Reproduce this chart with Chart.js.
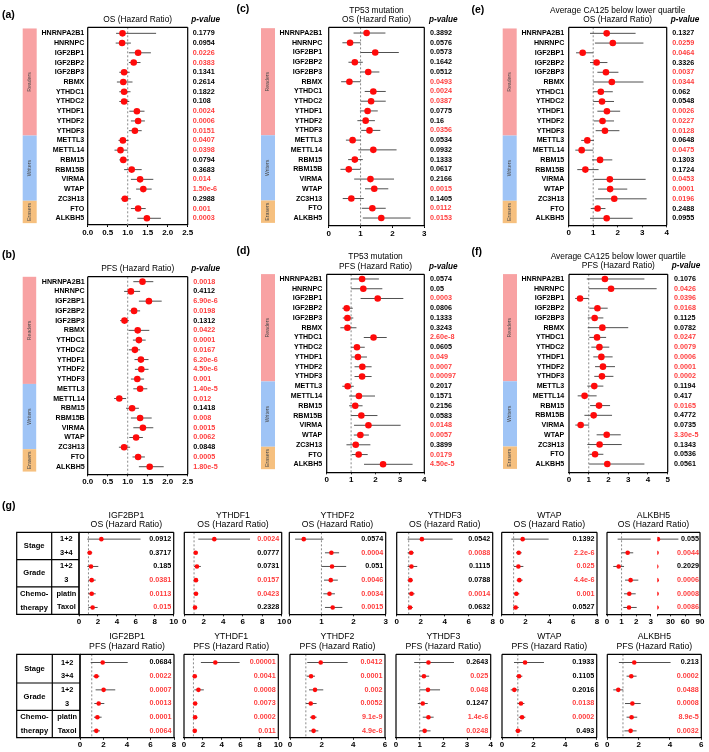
<!DOCTYPE html>
<html><head><meta charset="utf-8">
<script src="https://cdn.jsdelivr.net/npm/chart.js@4"></script>
<style>
html,body{margin:0;padding:0;background:#fff;}
#wrap{position:relative;width:709px;height:752px;overflow:hidden;background:#fff;}
#wrap canvas{position:absolute;left:0;top:0;}
</style></head>
<body><div id="wrap"></div>
<script>
// ---------------- DATA ----------------
const genes = ['HNRNPA2B1','HNRNPC','IGF2BP1','IGF2BP2','IGF2BP3','RBMX','YTHDC1','YTHDC2','YTHDF1','YTHDF2','YTHDF3','METTL3','METTL14','RBM15','RBM15B','VIRMA','WTAP','ZC3H13','FTO','ALKBH5'];
const groupNames = ['Readers','Writers','Erasers'];

// (a) OS
const osHR = [0.87,0.86,1.26,1.15,0.91,0.89,0.91,0.91,1.23,1.26,1.18,0.88,0.82,0.89,1.10,1.31,1.39,0.93,1.26,1.48];
const osLo = [0.71,0.70,1.03,1.03,0.79,0.73,0.79,0.79,1.04,1.08,1.03,0.77,0.67,0.79,0.91,1.08,1.21,0.83,1.08,1.24];
const osHi = [1.71,1.08,1.58,1.32,1.05,1.12,1.07,1.04,1.42,1.43,1.35,1.02,1.00,1.03,1.35,1.64,1.60,1.08,1.45,1.83];
const osP  = ['0.1779','0.0954','0.0226','0.0383','0.1341','0.2614','0.1822','0.108','0.0024','0.0006','0.0151','0.0407','0.0398','0.0794','0.3683','0.014','1.50e-6','0.2988','0.001','0.0003'];
// (b) PFS
const pfsHR = [1.37,1.08,1.53,1.16,0.92,1.25,1.28,1.18,1.33,1.34,1.24,1.31,0.79,1.11,1.31,1.38,1.21,0.91,1.26,1.55];
const pfsLo = [1.14,0.91,1.28,1.04,0.81,1.02,1.13,1.03,1.17,1.18,1.08,1.14,0.66,0.96,1.08,1.14,1.04,0.78,1.12,1.28];
const pfsHi = [1.64,1.31,1.85,1.31,1.03,1.54,1.45,1.31,1.52,1.52,1.41,1.49,0.96,1.28,1.60,1.64,1.38,1.06,1.43,1.90];
const pfsP  = ['0.0018','0.4112','6.90e-6','0.0198','0.1312','0.0422','0.0001','0.0167','6.20e-6','4.50e-6','0.001','1.40e-5','0.012','0.1418','0.008','0.0015','0.0062','0.0848','0.0005','1.80e-5'];
// (c) TP53 mutation OS
const tp53OsHR = [1.19,0.67,1.46,0.82,1.24,0.65,1.40,1.33,1.22,1.16,1.28,0.75,1.40,0.82,0.63,1.31,1.43,0.71,1.37,1.65];
const tp53OsLo = [0.78,0.43,1.00,0.62,1.00,0.39,1.13,1.00,0.98,0.90,1.02,0.54,0.93,0.61,0.37,0.80,1.14,0.44,1.04,1.07];
const tp53OsHi = [1.78,1.00,2.20,1.07,1.59,1.00,1.79,1.79,1.54,1.45,1.62,1.00,2.13,1.07,1.00,2.05,1.87,1.10,1.79,2.57];
const tp53OsP  = ['0.3892','0.0576','0.0573','0.1642','0.0512','0.0493','0.0024','0.0387','0.0775','0.16','0.0356','0.0534','0.0932','0.1333','0.0617','0.2166','0.0015','0.1405','0.0112','0.0153'];
// (d) TP53 mutation PFS
const tp53PfsHR = [1.45,1.50,2.09,0.82,0.85,0.85,1.92,1.24,1.28,1.46,1.45,0.86,1.32,1.17,1.42,1.71,1.38,1.19,1.31,2.31];
const tp53PfsLo = [1.00,1.00,1.39,0.64,0.66,0.56,1.52,1.00,1.00,1.14,1.14,0.64,0.92,0.92,1.00,1.12,1.11,0.81,1.03,1.53];
const tp53PfsHi = [2.14,2.28,3.14,1.07,1.09,1.22,2.46,1.56,1.65,1.84,1.84,1.11,1.98,1.47,2.08,3.03,1.73,1.79,1.68,3.52];
const tp53PfsP  = ['0.0574','0.05','0.0003','0.0806','0.1333','0.3243','2.60e-8','0.0605','0.049','0.0007','0.00097','0.2017','0.1571','0.2156','0.0583','0.0148','0.0057','0.3899','0.0179','4.50e-5'];
// (e) CA125 OS
const caOsHR = [1.55,1.80,0.57,1.14,1.52,1.76,1.31,1.36,1.56,1.38,1.48,0.76,0.53,1.28,0.68,1.68,1.69,1.86,1.18,1.55];
const caOsLo = [0.87,1.07,0.30,0.87,1.17,1.00,1.00,1.00,1.17,1.03,1.10,0.51,0.27,0.95,0.35,1.03,1.20,1.08,0.90,0.87];
const caOsHi = [2.73,3.05,1.00,1.58,2.03,3.05,1.80,1.85,2.10,1.85,2.07,1.03,1.00,1.78,1.22,3.14,2.39,3.18,1.50,2.61];
const caOsP  = ['0.1327','0.0259','0.0464','0.3326','0.0037','0.0344','0.062','0.0548','0.0026','0.0227','0.0128','0.0648','0.0475','0.1303','0.1724','0.0453','0.0001','0.0196','0.2488','0.0955'];
// (f) CA125 PFS
const caPfsHR = [1.82,2.13,0.56,1.44,1.30,1.69,1.42,1.54,1.64,1.72,1.67,1.28,0.79,1.52,1.25,0.59,1.91,1.55,1.32,1.94];
const caPfsLo = [0.90,1.00,0.31,1.03,0.95,0.95,1.03,1.13,1.23,1.32,1.28,0.93,0.44,1.07,0.78,0.32,1.40,0.93,1.03,1.02];
const caPfsHi = [3.82,4.44,1.00,1.96,1.74,3.00,1.88,2.04,2.21,2.33,2.25,1.74,1.40,2.08,2.18,1.02,2.62,2.67,1.74,3.82];
const caPfsP  = ['0.1076','0.0426','0.0396','0.0168','0.1125','0.0782','0.0247','0.0079','0.0006','0.0001','0.0002','0.1194','0.417','0.0165','0.4772','0.0735','3.30e-5','0.1343','0.0536','0.0561'];

// (g) subgroup analyses
const gCats = [['Stage'],['Grade'],['Chemo-','therapy']];
const gRows = ['1+2','3+4','1+2','3','platin','Taxol'];

const igf2bp1OsHR = [2.36,1.13,1.27,1.34,1.34,1.44];
const igf2bp1OsLo = [0.88,0.88,0.88,0.99,0.99,0.99];
const igf2bp1OsHi = [6.50,1.40,2.04,1.76,1.76,1.97];
const igf2bp1OsP  = ['0.0912','0.3717','0.185','0.0381','0.0113','0.015'];
const ythdf1OsHR = [3.08,1.17,1.30,1.20,1.20,1.10];
const ythdf1OsLo = [1.44,1.00,1.00,0.95,0.97,0.90];
const ythdf1OsHi = [6.75,1.35,1.70,1.40,1.42,1.30];
const ythdf1OsP  = ['0.0024','0.0777','0.0731','0.0157','0.0423','0.2328'];
const ythdf2OsHR = [0.45,1.31,1.33,1.29,1.25,1.35];
const ythdf2OsLo = [0.18,1.11,1.00,1.08,1.06,1.11];
const ythdf2OsHi = [1.06,1.55,1.77,1.51,1.42,1.65];
const ythdf2OsP  = ['0.0574','0.0004','0.051','0.0046','0.0034','0.0015'];
const ythdf3OsHR = [2.10,1.20,1.23,1.14,1.23,1.11];
const ythdf3OsLo = [0.91,0.91,0.91,0.90,0.97,0.90];
const ythdf3OsHi = [4.66,1.43,1.71,1.34,1.49,1.34];
const ythdf3OsP  = ['0.0542','0.0088','0.1115','0.0788','0.0014','0.0632'];
const wtapOsHR = [1.76,1.43,1.40,1.48,1.23,1.17];
const wtapOsLo = [0.81,1.20,1.03,1.26,1.03,0.98];
const wtapOsHi = [3.94,1.68,1.82,1.76,1.48,1.43];
const wtapOsP  = ['0.1392','2.2e-6','0.025','4.4e-6','0.001','0.0527'];
const alkbh5OsHR = [4.2,1.42,0.80,1.62,1.53,1.51];
const alkbh5OsLo = [0.73,1.00,0.43,1.24,1.17,1.12];
const alkbh5OsHi = [46,1.80,1.17,2.15,1.97,2.04];
const alkbh5OsP  = ['0.055','0.0044','0.2029','0.0006','0.0008','0.0086'];

const igf2bp1PfsHR = [1.93,1.39,2.01,1.59,1.48,1.39];
const igf2bp1PfsLo = [0.91,1.13,1.33,1.22,1.19,1.08];
const igf2bp1PfsHi = [4.06,1.65,3.00,2.07,1.84,1.70];
const igf2bp1PfsP  = ['0.0684','0.0022','0.0007','0.0013','0.0001','0.0064'];
const ythdf1PfsHR = [3.32,1.14,1.53,1.18,1.18,1.14];
const ythdf1PfsLo = [1.79,0.95,1.10,0.97,0.98,0.95];
const ythdf1PfsHi = [5.90,1.35,2.10,1.40,1.40,1.35];
const ythdf1PfsP  = ['0.00001','0.0041','0.0008','0.0073','0.0002','0.011'];
const ythdf2PfsHR = [1.94,1.33,1.58,1.31,1.47,1.49];
const ythdf2PfsLo = [1.09,1.05,1.20,1.01,1.26,1.20];
const ythdf2PfsHi = [3.64,1.58,2.10,1.68,1.68,1.79];
const ythdf2PfsP  = ['0.0412','0.0001','0.002','0.0052','9.1e-9','4.9e-6'];
const ythdf3PfsHR = [1.37,1.18,1.35,1.13,1.37,1.21];
const ythdf3PfsLo = [0.77,0.99,0.99,0.92,1.13,1.01];
const ythdf3PfsHi = [2.45,1.40,1.86,1.34,1.59,1.46];
const ythdf3PfsP  = ['0.2643','0.025','0.048','0.1247','1.4e-6','0.0248'];
const wtapPfsHR = [1.46,1.08,0.78,1.20,1.27,1.01];
const wtapPfsLo = [0.76,0.89,0.55,0.99,1.06,0.85];
const wtapPfsHi = [2.66,1.29,1.08,1.42,1.48,1.25];
const wtapPfsP  = ['0.1933','0.1105','0.2016','0.0138','0.0002','0.493'];
const alkbh5PfsHR = [1.72,1.53,0.70,1.60,1.55,1.49];
const alkbh5PfsLo = [0.74,1.23,0.38,1.13,1.23,1.09];
const alkbh5PfsHi = [4.04,1.87,1.02,2.13,1.91,1.87];
const alkbh5PfsP  = ['0.213','0.0002','0.0488','0.0008','8.9e-5','0.0032'];

// ---------------- DRAWING ----------------
const W = 709, H = 752;
const FONT = '"Liberation Sans", Arial, Helvetica, sans-serif';
const RED_PT = '#ff0a0a', RED_TX = '#ff3d3d', CI_COL = '#505050', REF_COL = '#8a8a8a';
const GROUP_COLORS = ['#f8a2a3', '#9fc4f6', '#f6c07f'];
const GROUP_EDGES = [-0.5, 10.5, 17.2, 19.5];
const wrap = document.getElementById('wrap');

function addCanvas() {
  const c = document.createElement('canvas');
  c.width = W; c.height = H;
  c.style.width = W + 'px'; c.style.height = H + 'px';
  wrap.appendChild(c);
  return c;
}

function deco(c) {
  return {
    id: 'deco',
    afterDraw(chart) {
      const ctx = chart.ctx, a = chart.chartArea, ys = chart.scales.y;
      ctx.save();
      ctx.strokeStyle = '#000'; ctx.lineWidth = 1.2;
      ctx.beginPath();
      const fr = c.frame || {top: true, left: true, right: true};
      if (fr.top) { ctx.moveTo(a.left, a.top); ctx.lineTo(a.right + (fr.topExt || 0), a.top); }
      if (fr.left) { ctx.moveTo(a.left, a.top); ctx.lineTo(a.left, a.bottom); }
      if (fr.right) { ctx.moveTo(a.right, a.top); ctx.lineTo(a.right, a.bottom); }
      ctx.stroke();
      ctx.textBaseline = 'middle';
      if (c.labels) {
        ctx.fillStyle = '#000'; ctx.textAlign = 'right';
        ctx.font = 'bold 7.1px ' + FONT;
        c.labels.forEach((t, i) => ctx.fillText(t, a.left - c.gGap, ys.getPixelForValue(i)));
      }
      if (c.p) {
        ctx.font = 'bold ' + c.pSize + 'px ' + FONT;
        ctx.textAlign = c.pMode === 'left' ? 'left' : 'right';
        const px = c.pMode === 'left' ? a.right + c.pGap : a.right - c.pGap;
        c.p.forEach((t, i) => {
          ctx.fillStyle = parseFloat(t) < 0.05 ? RED_TX : '#000';
          ctx.fillText(t, px, ys.getPixelForValue(i));
        });
      }
      if (c.bar) {
        for (let g = 0; g < groupNames.length; g++) {
          const y0 = ys.getPixelForValue(GROUP_EDGES[g]), y1 = ys.getPixelForValue(GROUP_EDGES[g + 1]);
          ctx.fillStyle = GROUP_COLORS[g];
          ctx.fillRect(c.bar[0], y0, c.bar[1], y1 - y0);
          ctx.save();
          ctx.translate(c.bar[0] + c.bar[1] / 2, (y0 + y1) / 2);
          ctx.rotate(-Math.PI / 2);
          ctx.fillStyle = '#4a4a4a'; ctx.textAlign = 'center';
          ctx.font = '5.2px ' + FONT;
          ctx.fillText(groupNames[g], 0, 0);
          ctx.restore();
        }
      }
      if (c.titles) {
        ctx.fillStyle = '#000'; ctx.textAlign = 'center';
        const tx = c.titleX !== undefined ? c.titleX : (a.left + a.right) / 2;
        c.titles.forEach(t => { ctx.font = t[2] + ' ' + FONT; ctx.fillText(t[0], tx, t[1]); });
      }
      if (c.pHead) {
        ctx.fillStyle = '#000'; ctx.textAlign = 'center';
        ctx.font = 'italic bold 8.2px ' + FONT;
        ctx.fillText('p-value', c.pHead[0], c.pHead[1]);
      }
      if (c.letter) {
        ctx.fillStyle = '#000'; ctx.textAlign = 'left';
        ctx.font = 'bold 10.5px ' + FONT;
        ctx.fillText(c.letter[0], c.letter[1], c.letter[2]);
      }
      if (c.table) {
        const L = c.table[0], C = c.table[1], R = a.left;
        ctx.strokeStyle = '#000'; ctx.lineWidth = 1.2;
        ctx.beginPath();
        ctx.rect(L, a.top, R - L, a.bottom - a.top);
        ctx.moveTo(C, a.top); ctx.lineTo(C, a.bottom);
        [1.5, 3.5].forEach(v => { const y = ys.getPixelForValue(v); ctx.moveTo(L, y); ctx.lineTo(R, y); });
        ctx.stroke();
        ctx.fillStyle = '#000'; ctx.textAlign = 'center';
        ctx.font = 'bold 7.6px ' + FONT;
        gCats.forEach((lines, k) => {
          const r0 = k * 2;
          if (lines.length === 1) ctx.fillText(lines[0], (L + C) / 2, ys.getPixelForValue(r0 + 0.5));
          else lines.forEach((t, j) => ctx.fillText(t, (L + C) / 2, ys.getPixelForValue(r0 + j)));
        });
        ctx.font = 'bold 7.4px ' + FONT;
        gRows.forEach((t, i) => ctx.fillText(t, (C + R) / 2 + 1, ys.getPixelForValue(i)));
      }
      ctx.restore();
    }
  };
}

function forest(c) {
  const cv = addCanvas();
  const idx = c.hr.map((_, i) => i);
  const datasets = [
    {data: idx.map(i => ({x: c.hr[i], y: i})), showLine: false, pointRadius: c.ptR, pointHoverRadius: c.ptR,
     backgroundColor: RED_PT, borderWidth: 0, pointBorderWidth: 0, order: 0},
    ...idx.map(i => ({data: [{x: c.lo[i], y: i}, {x: c.hi[i], y: i}], showLine: true, borderColor: CI_COL,
      borderWidth: 1, pointRadius: 0, pointHoverRadius: 0, order: 1}))
  ];
  if (c.ref !== false) datasets.push({data: [{x: 1, y: c.yMin}, {x: 1, y: c.yMax}], showLine: true,
    borderColor: REF_COL, borderWidth: 1, borderDash: [2, 2], pointRadius: 0, pointHoverRadius: 0, order: 2});
  const axisH = 12;
  new Chart(cv, {
    type: 'scatter',
    data: {datasets},
    options: {
      responsive: false, animation: false, events: [],
      layout: {padding: {left: c.box.l, top: c.box.t, right: W - c.box.r, bottom: H - c.box.b - axisH}},
      plugins: {legend: {display: false}, tooltip: {enabled: false}, title: {display: false}},
      scales: {
        x: {
          type: 'linear', min: c.xMin, max: c.xMax,
          afterBuildTicks: s => { s.ticks = c.ticks.map(v => ({value: v})); },
          afterFit: s => { s.height = axisH; },
          grid: {display: true, drawOnChartArea: false, drawTicks: true, tickLength: 2, color: '#000', lineWidth: 1},
          border: {display: true, color: '#000', width: 1.2},
          ticks: {color: '#000', padding: 0.5, maxRotation: 0, autoSkip: false,
            font: {family: FONT, size: 8, weight: 'bold'},
            callback: v => (c.hideTick !== undefined && v === c.hideTick) ? '' : v.toFixed(c.dec)}
        },
        y: {type: 'linear', display: false, min: c.yMin, max: c.yMax, reverse: true}
      }
    },
    plugins: [deco(c)]
  });
}

// panels (a)-(f)
const TITLE_FONT = '8.4px';
const panelsAF = [
  {letter: ['(a)', 2, 15], box: {l: 87.7, t: 27.3, r: 187.7, b: 225}, xMax: 2.5, ticks: [0, 0.5, 1, 1.5, 2, 2.5], dec: 1,
   yMin: -0.62, yMax: 19.69, titles: [['OS (Hazard Ratio)', 20, TITLE_FONT]], pHead: [205.7, 20], gGap: 3.4, pGap: 5, bar: [22.7, 14],
   hr: osHR, lo: osLo, hi: osHi, p: osP},
  {letter: ['(b)', 2, 255], box: {l: 87.7, t: 276.7, r: 187.7, b: 474.3}, xMax: 2.5, ticks: [0, 0.5, 1, 1.5, 2, 2.5], dec: 1,
   yMin: -0.51, yMax: 19.78, titles: [['PFS (Hazard Ratio)', 268.3, TITLE_FONT]], pHead: [205.7, 268.3], gGap: 3, pGap: 5.6, bar: [22.7, 13.5],
   hr: pfsHR, lo: pfsLo, hi: pfsHi, p: pfsP},
  {letter: ['(c)', 236.5, 9], box: {l: 328.7, t: 27.3, r: 424.3, b: 226}, xMax: 3, ticks: [0, 1, 2, 3], dec: 0,
   yMin: -0.59, yMax: 19.82, titles: [['TP53 mutation', 11, TITLE_FONT], ['OS (Hazard Ratio)', 20, TITLE_FONT]], pHead: [443.3, 20], gGap: 6.4, pGap: 5.7, bar: [261, 14],
   hr: tp53OsHR, lo: tp53OsLo, hi: tp53OsHi, p: tp53OsP},
  {letter: ['(d)', 236.5, 250.8], box: {l: 326.7, t: 274.3, r: 424.3, b: 472.3}, xMax: 4, ticks: [0, 1, 2, 3, 4], dec: 0,
   yMin: -0.48, yMax: 19.82, titles: [['TP53 mutation', 256.7, TITLE_FONT], ['PFS (Hazard Ratio)', 266.7, TITLE_FONT]], pHead: [443.3, 266.7], gGap: 4.4, pGap: 5.7, bar: [261, 14],
   hr: tp53PfsHR, lo: tp53PfsLo, hi: tp53PfsHi, p: tp53PfsP},
  {letter: ['(e)', 471.5, 10.5], box: {l: 568.7, t: 27.3, r: 666.7, b: 225.3}, xMax: 4, ticks: [0, 1, 2, 3, 4], dec: 0,
   yMin: -0.62, yMax: 19.72, titles: [['Average CA125 below lower quartile', 11, TITLE_FONT], ['OS (Hazard Ratio)', 20, TITLE_FONT]], pHead: [685, 20], gGap: 4.4, pGap: 5.6, bar: [502.7, 14],
   hr: caOsHR, lo: caOsLo, hi: caOsHi, p: caOsP},
  {letter: ['(f)', 471.5, 252], box: {l: 569, t: 274.3, r: 667.7, b: 472.3}, xMax: 5, ticks: [0, 1, 2, 3, 4, 5], dec: 0,
   yMin: -0.48, yMax: 19.85, titles: [['Average CA125 below lower quartile', 256.7, TITLE_FONT], ['PFS (Hazard Ratio)', 266, TITLE_FONT]], pHead: [686, 266], gGap: 4.7, pGap: 6.3, bar: [503, 14],
   hr: caPfsHR, lo: caPfsLo, hi: caPfsHi, p: caPfsP}
];
panelsAF.forEach(pn => forest(Object.assign({xMin: 0, ptR: 3.3, labels: genes, pMode: 'left', pSize: 7.2}, pn)));

// panel (g)
const G_TITLE = '8.7px';
const topRow = {t: 532.3, b: 614.3, yMin: -0.5, yMax: 5.5, ty: [515.7, 525]};
const botRow = {t: 654.3, b: 737.7, yMin: -0.6, yMax: 5.5, ty: [637, 646.3]};
function gPanel(row, name, kind, l, r, xMin, xMax, ticks, hr, lo, hi, p, extra) {
  const c = Object.assign({
    box: {l, t: row.t, r, b: row.b}, xMin, xMax, ticks, dec: 0, yMin: row.yMin, yMax: row.yMax, ptR: 2.3,
    hr, lo, hi, p, pMode: 'right', pGap: 2.5, pSize: 7.2,
    titles: [[name, row.ty[0], G_TITLE], [kind + ' (Hazard Ratio)', row.ty[1], G_TITLE]]
  }, extra || {});
  forest(c);
}
const t2 = [0, 2, 4, 6, 8, 10], t8 = [0, 2, 4, 6, 8], t6 = [0, 2, 4, 6];
gPanel(topRow, 'IGF2BP1', 'OS', 79, 173.7, 0, 10, t2, igf2bp1OsHR, igf2bp1OsLo, igf2bp1OsHi, igf2bp1OsP,
  {table: [16.7, 51.7], letter: ['(g)', 2, 506]});
gPanel(topRow, 'YTHDF1', 'OS', 184.3, 281.7, 0, 10, t2, ythdf1OsHR, ythdf1OsLo, ythdf1OsHi, ythdf1OsP);
gPanel(topRow, 'YTHDF2', 'OS', 289.3, 385.7, 0, 3, [0, 1, 2, 3], ythdf2OsHR, ythdf2OsLo, ythdf2OsHi, ythdf2OsP);
gPanel(topRow, 'YTHDF3', 'OS', 396.7, 492.7, 0, 8, t8, ythdf3OsHR, ythdf3OsLo, ythdf3OsHi, ythdf3OsP);
gPanel(topRow, 'WTAP', 'OS', 501.7, 597, 0, 8, t8, wtapOsHR, wtapOsLo, wtapOsHi, wtapOsP);
// ALKBH5 OS: broken axis drawn as two linked scales
gPanel(topRow, 'ALKBH5', 'OS', 607, 650.7, 0, 3, [0, 1, 2, 3], alkbh5OsHR, alkbh5OsLo, alkbh5OsHi, alkbh5OsP,
  {p: null, frame: {top: true, left: true, right: false, topExt: 6.6}, titleX: 653.5});
gPanel(topRow, 'ALKBH5', 'OS', 657.3, 700, 3, 90, [3, 30, 60, 90], alkbh5OsHR, alkbh5OsLo, alkbh5OsHi, alkbh5OsP,
  {titles: null, ref: false, hideTick: 3, pGap: 1, frame: {top: true, left: false, right: true}});

gPanel(botRow, 'IGF2BP1', 'PFS', 80, 174, 0, 8, t8, igf2bp1PfsHR, igf2bp1PfsLo, igf2bp1PfsHi, igf2bp1PfsP,
  {table: [16.7, 52.3]});
gPanel(botRow, 'YTHDF1', 'PFS', 184, 278.3, 0, 10, t2, ythdf1PfsHR, ythdf1PfsLo, ythdf1PfsHi, ythdf1PfsP);
gPanel(botRow, 'YTHDF2', 'PFS', 290, 385, 0, 6, t6, ythdf2PfsHR, ythdf2PfsLo, ythdf2PfsHi, ythdf2PfsP);
gPanel(botRow, 'YTHDF3', 'PFS', 396, 490.7, 0, 4, [0, 1, 2, 3, 4], ythdf3PfsHR, ythdf3PfsLo, ythdf3PfsHi, ythdf3PfsP);
gPanel(botRow, 'WTAP', 'PFS', 502, 596.7, 0, 6, t6, wtapPfsHR, wtapPfsLo, wtapPfsHi, wtapPfsP);
gPanel(botRow, 'ALKBH5', 'PFS', 607.3, 701.3, 0, 6, t6, alkbh5PfsHR, alkbh5PfsLo, alkbh5PfsHi, alkbh5PfsP);
</script>
</body></html>
